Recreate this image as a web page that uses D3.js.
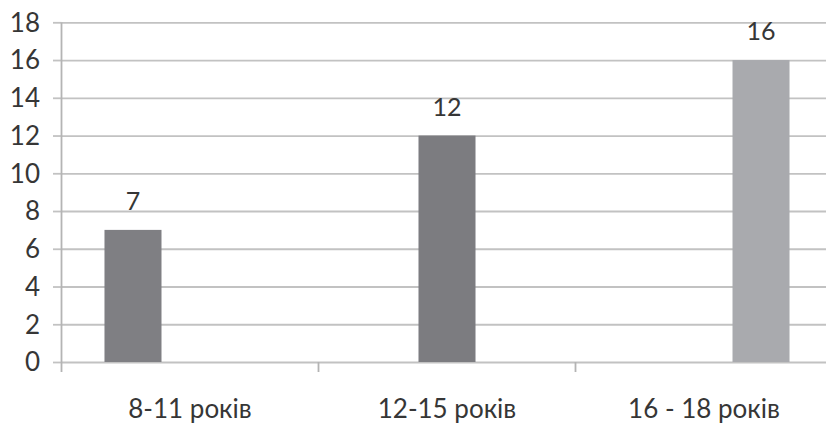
<!DOCTYPE html>
<html>
<head>
<meta charset="utf-8">
<script src="https://cdn.jsdelivr.net/npm/d3@7"></script>
<style>
  html, body { margin: 0; padding: 0; background: #fff; }
  svg { display: block; }
</style>
</head>
<body>
<svg id="chart" width="826" height="423"></svg>
<script>
// Age groups on the category axis
const categories = ["8-11 років", "12-15 років", "16 - 18 років"];
// One series per age group; each has a value only in its own group
const seriesKeys = ["groupA", "groupB", "groupC"];
const groupA = [7, null, null];
const groupB = [null, 12, null];
const groupC = [null, null, 16];
const seriesColors = ["#7f7f83", "#7c7c80", "#a9aaae"];
// Value axis ticks
const yTicks = [0, 2, 4, 6, 8, 10, 12, 14, 16, 18];

const seriesValues = { groupA, groupB, groupC };

const svg = d3.select("#chart");
const axisX = 61.5;
const baseY = 362;
const topY = 22.3;
const bandW = 257;

const x0 = d3.scaleBand()
  .domain(categories)
  .range([axisX, axisX + bandW * categories.length])
  .paddingInner(0).paddingOuter(0);

const x1 = d3.scaleBand()
  .domain(seriesKeys)
  .range([0, x0.bandwidth()])
  .paddingInner(0).paddingOuter(0.754);

const y = d3.scaleLinear().domain([0, 18]).range([baseY, topY]);

const textColor = "#363636";
const gridColor = "#c2c2c2";
const font = "Lato, 'Liberation Sans', sans-serif";

// Horizontal gridlines with short outer ticks left of the axis
const grid = svg.append("g")
  .attr("transform", `translate(${axisX},0)`)
  .call(d3.axisLeft(y).tickValues(yTicks).tickSize(8.5).tickFormat(""));
grid.select(".domain").remove();
grid.selectAll(".tick line").attr("stroke", gridColor).attr("stroke-width", 1.8);
grid.selectAll(".tick").append("line")
  .attr("x1", 0).attr("x2", 826 - axisX)
  .attr("stroke", gridColor).attr("stroke-width", 1.8);

// Bars
const rows = categories.map((c, i) => ({ cat: c, i }));
const groups = svg.append("g").selectAll("g")
  .data(rows).join("g")
  .attr("transform", d => `translate(${x0(d.cat)},0)`);

const barData = d => seriesKeys
  .map((k, si) => ({ key: k, si, value: seriesValues[k][d.i] }))
  .filter(e => e.value != null);

groups.selectAll("rect")
  .data(barData).join("rect")
  .attr("x", e => x1(e.key))
  .attr("width", x1.bandwidth())
  .attr("y", e => y(e.value))
  .attr("height", e => y(0) - y(e.value))
  .attr("fill", e => seriesColors[e.si]);

// Value labels above bars
groups.selectAll("text.val")
  .data(barData).join("text")
  .attr("class", "val")
  .attr("x", e => x1(e.key) + x1.bandwidth() / 2)
  .attr("y", e => y(e.value) - 20)
  .attr("text-anchor", "middle")
  .attr("font-family", font)
  .attr("font-size", 25)
  .attr("fill", textColor)
  .text(e => e.value);

// Vertical value axis line
svg.append("line")
  .attr("x1", axisX).attr("x2", axisX)
  .attr("y1", topY).attr("y2", baseY + 10)
  .attr("stroke", "#b4b4b4").attr("stroke-width", 1.8);

// Category boundary ticks below the baseline
const bounds = categories.map(c => x0(c)).concat([x0.range()[1]]);
svg.append("g").selectAll("line")
  .data(bounds.slice(1)).join("line")
  .attr("x1", d => d).attr("x2", d => d)
  .attr("y1", baseY).attr("y2", baseY + 10)
  .attr("stroke", "#b4b4b4").attr("stroke-width", 1.8);

// Value axis labels
svg.append("g").selectAll("text")
  .data(yTicks).join("text")
  .attr("x", 40)
  .attr("y", d => y(d))
  .attr("dy", "0.36em")
  .attr("text-anchor", "end")
  .attr("font-family", font)
  .attr("font-size", 26)
  .attr("fill", textColor)
  .text(d => d);

// Category labels
svg.append("g").selectAll("text")
  .data(categories).join("text")
  .attr("x", d => x0(d) + x0.bandwidth() / 2)
  .attr("y", 418)
  .attr("text-anchor", "middle")
  .attr("font-family", font)
  .attr("font-size", 26)
  .attr("fill", textColor)
  .text(d => d);
</script>
</body>
</html>
